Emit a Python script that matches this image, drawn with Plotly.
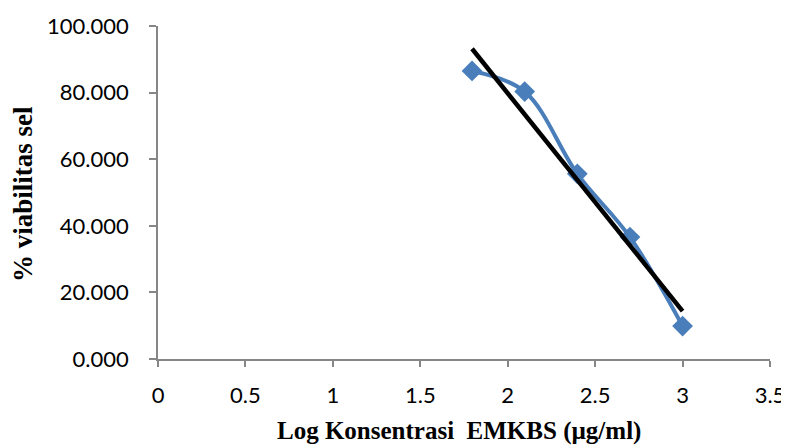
import numpy as np
import plotly.graph_objects as go

# data
log_konsentrasi = [1.796, 2.097, 2.398, 2.699, 3.000]
viabilitas = [86.5, 80.3, 55.6, 36.6, 9.9]
x_ticks = [0, 0.5, 1, 1.5, 2, 2.5, 3, 3.5]
x_tick_labels = ["0", "0.5", "1", "1.5", "2", "2.5", "3", "3.5"]
y_ticks = [0, 20, 40, 60, 80, 100]
y_tick_labels = ["0.000", "20.000", "40.000", "60.000", "80.000", "100.000"]

# linear trendline (least squares, from the data)
slope, intercept = np.polyfit(log_konsentrasi, viabilitas, 1)
trend_x = [min(log_konsentrasi), max(log_konsentrasi)]
trend_y = [slope * v + intercept for v in trend_x]

blue = "#4A7EBB"
axis_col = "#868686"

fig = go.Figure()
fig.add_trace(go.Scatter(
    x=log_konsentrasi, y=viabilitas, mode="lines+markers",
    line=dict(color=blue, width=4, shape="spline", smoothing=1.0),
    marker=dict(symbol="diamond", size=16, color=blue),
    showlegend=False, hoverinfo="x+y",
))
fig.add_trace(go.Scatter(
    x=trend_x, y=trend_y, mode="lines",
    line=dict(color="black", width=4.5),
    showlegend=False,
))

tick_font = dict(family="Lato, 'Open Sans', sans-serif", size=22, color="black")
serif = "'Liberation Serif', 'Times New Roman', serif"

# plot area in page pixels (page has an 8px body margin)
L, R, T, B = 158, 770, 26, 359

def px_x(p):
    return (p - L) / (R - L)

def px_y(p):
    return (B - p) / (B - T)

fig.update_layout(
    width=781, height=439,
    margin=dict(l=L - 8, r=789 - R, t=T - 8, b=447 - B),
    paper_bgcolor="white", plot_bgcolor="white",
    xaxis=dict(
        range=[0, 3.5], tickvals=x_ticks, ticktext=x_tick_labels,
        showgrid=False, zeroline=False, showline=True, linecolor=axis_col, linewidth=1.5,
        ticks="outside", ticklen=6, tickcolor=axis_col, tickwidth=1.5,
        tickfont=tick_font, ticklabelstandoff=10, automargin=False,
    ),
    yaxis=dict(
        range=[0, 100], tickvals=y_ticks, ticktext=y_tick_labels,
        showgrid=False, zeroline=False, showline=True, linecolor=axis_col, linewidth=1.5,
        ticks="outside", ticklen=7, tickcolor=axis_col, tickwidth=1.5,
        tickfont=tick_font, ticklabelstandoff=16, automargin=False,
    ),
    annotations=[
        dict(
            text="<b>Log Konsentrasi\u00a0\u00a0EMKBS (µg/ml)</b>",
            xref="paper", yref="paper", x=px_x(459), y=px_y(431),
            xanchor="center", yanchor="middle", showarrow=False,
            font=dict(family=serif, size=25, color="black"),
        ),
        dict(
            text="<b>% viabilitas sel</b>",
            xref="paper", yref="paper", x=px_x(23), y=px_y(194),
            xanchor="center", yanchor="middle", showarrow=False, textangle=-90,
            font=dict(family=serif, size=27, color="black"),
        ),
    ],
)

fig.write_html("out.html")
